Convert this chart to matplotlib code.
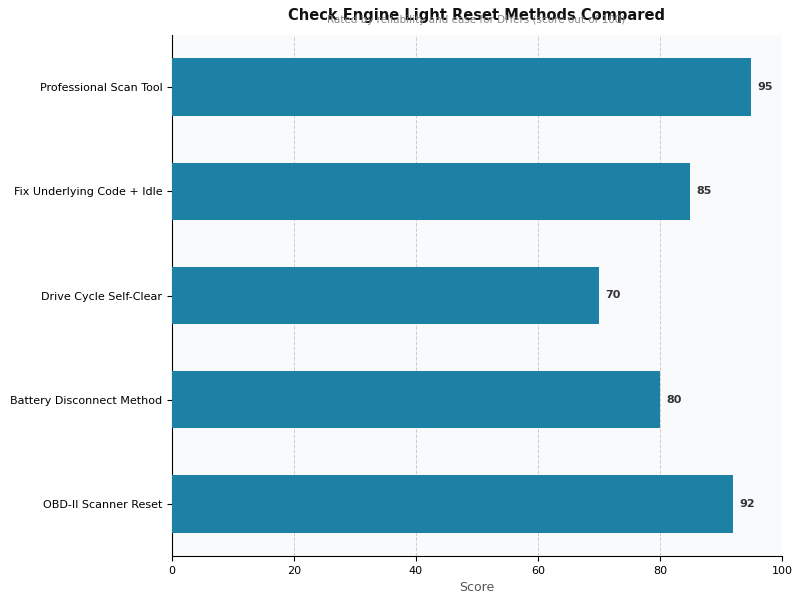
import matplotlib
matplotlib.use("Agg")
import matplotlib.pyplot as plt

categories = ["OBD-II Scanner Reset", "Battery Disconnect Method", "Drive Cycle Self-Clear",
              "Fix Underlying Code + Idle", "Professional Scan Tool"]
scores = [92, 80, 70, 85, 95]
xticks = [0, 20, 40, 60, 80, 100]

fig = plt.figure(figsize=(8, 6), dpi=100)
ax = fig.add_axes([0.215, 0.073, 0.7625, 0.869])
ax.set_facecolor("#f8fafc")
bars = ax.barh(range(len(categories)), scores, height=0.55, color="#1d81a6", zorder=3)
ax.set_yticks(range(len(categories)))
ax.set_yticklabels(categories, fontsize=8)
ax.set_xlim(0, 100)
ax.set_ylim(-0.5, len(categories) - 0.5)
ax.set_xticks(xticks)
ax.tick_params(axis="x", labelsize=8)
ax.grid(axis="x", linestyle="--", color="#cccccc", linewidth=0.7, zorder=0)
ax.spines["top"].set_visible(False)
ax.spines["right"].set_visible(False)
ax.set_xlabel("Score", fontsize=9, color="#555555")
for i, v in enumerate(scores):
    ax.text(v + 1, i, str(v), va="center", ha="left", fontsize=8, fontweight="bold", color="#333333")

fig.text(0.595, 0.974, "Check Engine Light Reset Methods Compared", ha="center", va="center",
         fontsize=10.5, fontweight="bold", color="#111111")
fig.text(0.595, 0.966, "Rated by reliability and ease for DIYers (score out of 100)", ha="center", va="center",
         fontsize=7.5, color="#888888")
fig.savefig("out.png", dpi=100)
